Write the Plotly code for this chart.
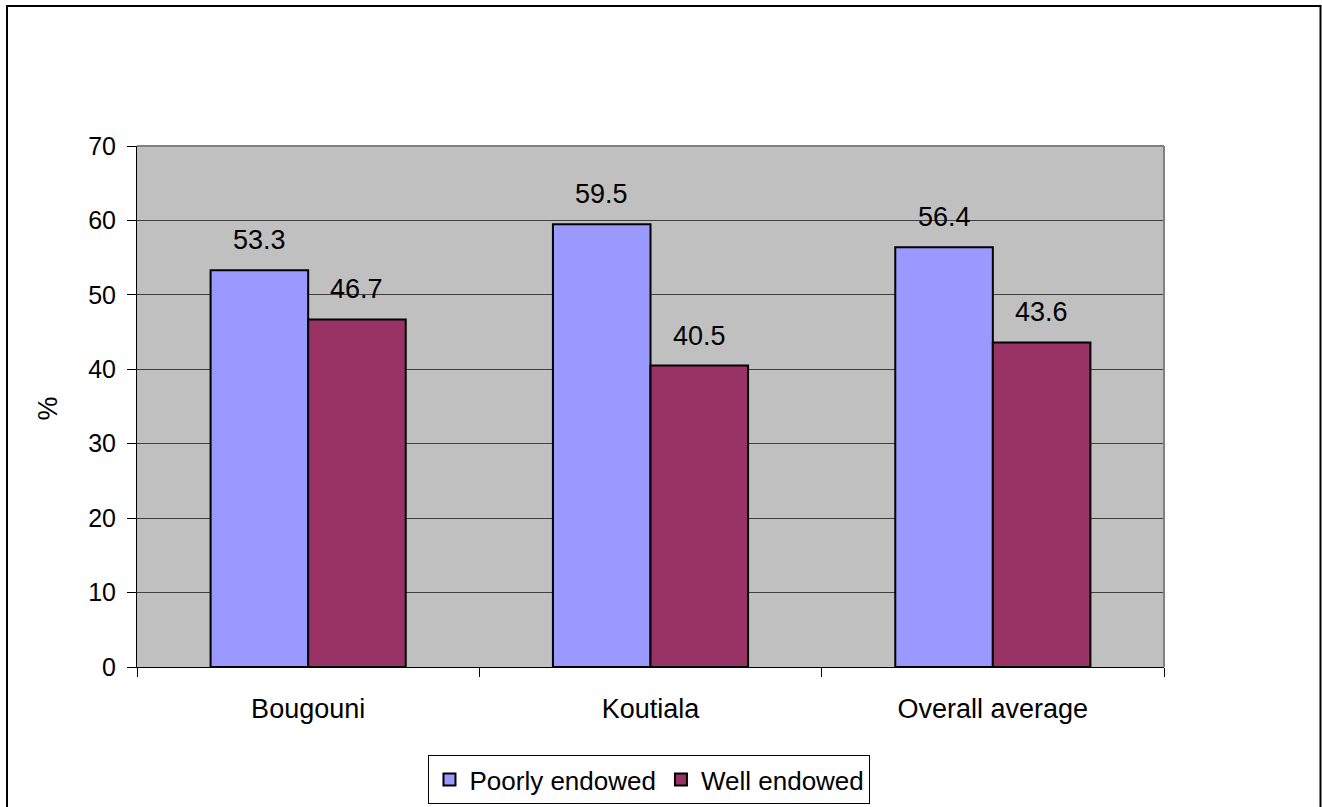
import plotly.graph_objects as go

# Share of households by endowment class, per zone
categories = ["Bougouni", "Koutiala", "Overall average"]
poorly_endowed = [53.3, 59.5, 56.4]
well_endowed = [46.7, 40.5, 43.6]
y_ticks = [0, 10, 20, 30, 40, 50, 60, 70]

FONT = "Liberation Sans, Arial, sans-serif"
W, H = 1322, 807
L, R, T, B = 137, 158, 146, 140

fig = go.Figure()
fig.add_trace(go.Bar(
    name="Poorly endowed", x=categories, y=poorly_endowed,
    marker=dict(color="#9999FF", line=dict(color="black", width=2)),
))
fig.add_trace(go.Bar(
    name="Well endowed", x=categories, y=well_endowed,
    marker=dict(color="#993366", line=dict(color="black", width=2)),
))

# value labels above each bar
annotations = []
for i, cat in enumerate(categories):
    for j, vals in enumerate([poorly_endowed, well_endowed]):
        annotations.append(dict(
            x=cat, y=vals[i], xref="x", yref="y", text=f"{vals[i]:.1f}",
            showarrow=False, yanchor="middle", yshift=30,
            xshift=(-48.75 if j == 0 else 48.75),
            font=dict(family=FONT, size=27, color="black"),
        ))

pw = W - L - R
ph = H - T - B

# y-axis title
annotations.append(dict(
    x=(47.5 - L) / pw, y=(H - B - 409) / ph, xref="paper", yref="paper",
    xanchor="center", yanchor="middle",
    text="%", textangle=-90, showarrow=False,
    font=dict(family=FONT, size=27, color="black"),
))

shapes = [
    # outer chart frame
    dict(type="rect", xref="paper", yref="paper",
         x0=(7 - L) / pw, x1=(1320.5 - L) / pw,
         y0=(H - B - 815) / ph, y1=(H - B - 6) / ph,
         line=dict(color="black", width=2), fillcolor="rgba(0,0,0,0)", layer="above"),
    # grey plot-area border (top and right)
    dict(type="line", xref="paper", yref="paper", x0=0, x1=1, y0=1, y1=1,
         line=dict(color="#808080", width=2), layer="above"),
    dict(type="line", xref="paper", yref="paper", x0=1, x1=1, y0=0, y1=1,
         line=dict(color="#808080", width=2), layer="above"),
]

fig.update_layout(
    width=W, height=H, autosize=False,
    margin=dict(l=L, r=R, t=T, b=B, pad=0, autoexpand=False),
    paper_bgcolor="white", plot_bgcolor="#C0C0C0",
    barmode="group", bargap=0.43, bargroupgap=0,
    font=dict(family=FONT, size=24, color="black"),
    showlegend=True,
    legend=dict(
        orientation="h", x=0.499, xanchor="center", y=(H - B - 755) / ph, yanchor="top",
        bordercolor="black", borderwidth=1, bgcolor="white",
        font=dict(family=FONT, size=26, color="black"),
        itemsizing="constant", traceorder="normal",
        itemwidth=30, tracegroupgap=0,
    ),
    annotations=annotations,
    shapes=shapes,
)
fig.update_xaxes(
    type="category", tickson="boundaries", ticks="outside", ticklen=9,
    tickcolor="black", showline=True, linecolor="black", linewidth=1,
    showgrid=False, ticklabelstandoff=18, automargin=False,
    tickfont=dict(family=FONT, size=27, color="black"),
)
fig.update_yaxes(
    range=[0, 70], tickvals=y_ticks, ticks="outside", ticklen=9,
    tickcolor="black", showline=True, linecolor="black", linewidth=1,
    showgrid=True, gridcolor="#404040", gridwidth=1, zeroline=False,
    ticklabelstandoff=6, automargin=False,
    tickfont=dict(family=FONT, size=25, color="black"),
)

fig.write_html("out.html")
